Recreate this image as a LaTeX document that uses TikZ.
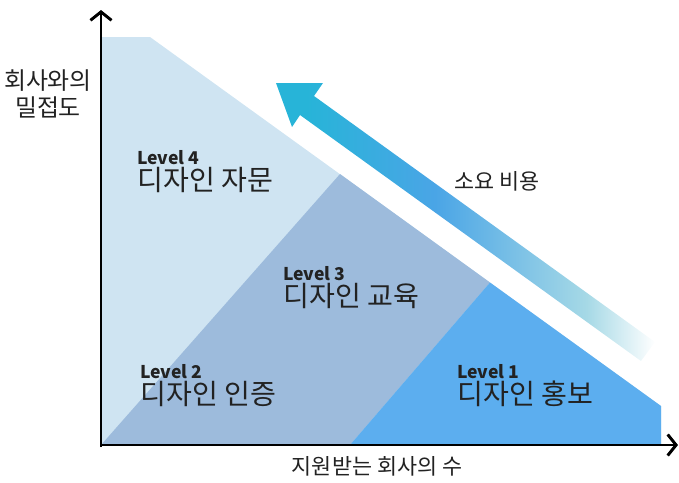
\documentclass[tikz,border=0pt]{standalone}
\usepackage{fontspec}
\setmainfont{Noto Sans CJK KR}
\usepackage{xcolor}
\usepackage{tikz}
\usetikzlibrary{arrows.meta, positioning, calc}

\definecolor{outerblue}{HTML}{CFE4F2}
\definecolor{midblue}{HTML}{9DBBDC}
\definecolor{promoblue}{HTML}{5CAEEF}
\definecolor{headcyan}{HTML}{27B4D8}
\definecolor{bandblue}{HTML}{4AA5E6}
\definecolor{bandteal}{HTML}{A6D9E6}
\definecolor{inkgray}{HTML}{222222}

% colours along the cost arrow, from its head to its tail
\pgfdeclarehorizontalshading{costband}{100bp}{
  color(0bp)=(headcyan); color(29bp)=(headcyan); color(46bp)=(bandblue);
  color(66bp)=(bandteal); color(75bp)=(white); color(100bp)=(white)}

\begin{document}
\begin{tikzpicture}[
    x=0.025cm, y=-0.025cm,
    font=\fontsize{15.5}{17}\selectfont,
    text=inkgray,
    axis/.style={line width=2.1pt, black, -{Straight Barb[length=6pt, width=15pt]}},
    lvl/.style={font=\fontsize{12.5}{14}\selectfont\bfseries, inner sep=0pt, anchor=west},
    stage/.style={font=\fontsize{20}{22}\selectfont, inner sep=0pt},
    caption/.style={inner sep=0pt, align=center},
]
    \useasboundingbox (0,0) rectangle (679,482);

    % areas under the line
    \fill[outerblue] (101,445) -- (101,37) -- (150,37) -- (661,406) -- (661,445) -- cycle;
    \fill[midblue] (101,445) -- (340,174) -- (490,282.5) -- (350,445) -- cycle;
    \fill[promoblue] (350,445) -- (490,282.5) -- (661,406) -- (661,445) -- cycle;

    % cost arrow
    \shade[shading=costband] (276,83) -- (323,83) -- (314,96) -- (655,342)
        -- (641,361) -- (300,115) -- (292,127) -- cycle;

    % axes
    \coordinate (origin) at (101,446);
    \coordinate (ytip) at (101,10);
    \coordinate (xtip) at (678,445);
    \draw[axis] ($(origin)+(0,1)$) -- (ytip);
    \draw[axis] ($(origin)+(-1,-1)$) -- (xtip);

    \node[caption, font=\fontsize{17}{19}\selectfont] (ylabel) at (48,94) {회사와의\\밀접도};
    \node[caption] (xlabel) at (377,466) {지원받는 회사의 수};
    \node[caption] (cost) at (497,181) {소요 비용};

    \node[lvl] (lvl4) at (137,158) {Level 4};
    \node[stage, below right=1pt and 0pt of lvl4.south west] (stage4) {디자인 자문};
    \node[lvl] (lvl3) at (283,274) {Level 3};
    \node[stage, below right=1pt and 0pt of lvl3.south west] (stage3) {디자인 교육};
    \node[lvl] (lvl2) at (140,372) {Level 2};
    \node[stage, below right=1pt and 0pt of lvl2.south west] (stage2) {디자인 인증};
    \node[lvl] (lvl1) at (457,372) {Level 1};
    \node[stage, below right=1pt and 0pt of lvl1.south west] (stage1) {디자인 홍보};
\end{tikzpicture}
\end{document}
